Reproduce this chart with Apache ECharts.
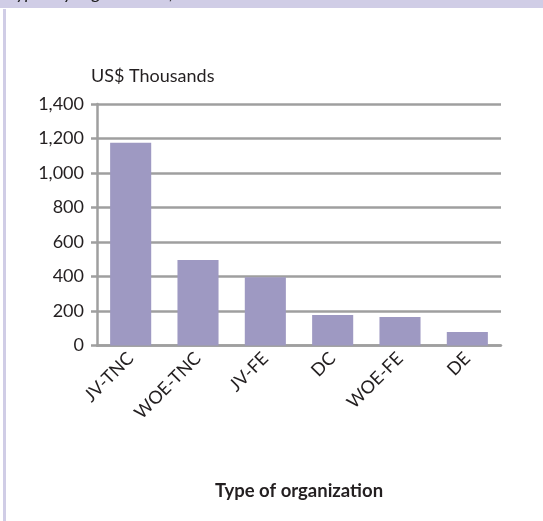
<!DOCTYPE html>
<html>
<head>
<meta charset="utf-8">
<script src="https://cdn.jsdelivr.net/npm/echarts@6/dist/echarts.min.js"></script>
<style>
  html, body { margin: 0; padding: 0; background: #fff; }
  #chart { width: 543px; height: 521px; }
</style>
</head>
<body>
<div id="chart"></div>
<script>
// values
let categories = ['JV-TNC', 'WOE-TNC', 'JV-FE', 'DC', 'WOE-FE', 'DE'];
let values = [1176, 496, 395, 177, 165, 78];
let yTicks = [0, 200, 400, 600, 800, 1000, 1200, 1400];

let font = 'Lato, "Open Sans", sans-serif';
let grey = '#9f9f9f';

let myChart = echarts.init(document.getElementById('chart'));

let option = {
    animation: false,
    textStyle: { fontFamily: font },
    graphic: [
        // lavender frame around the figure
        { type: 'rect', shape: { x: 0, y: 0, width: 543, height: 8 }, style: { fill: '#d0cde6' }, z: 1 },
        { type: 'rect', shape: { x: 3, y: 9, width: 3, height: 512 }, style: { fill: '#d0cde6' }, z: 1 },
        // cut off caption on top, only descenders show
        {
            type: 'text', left: 8, top: -16, z: 2,
            style: { text: 'Types by organization,', fill: '#222', font: 'italic 18px ' + font }
        }
    ],
    grid: { left: 97, right: 42, top: 104, bottom: 175.5 },
    xAxis: {
        type: 'category',
        data: categories,
        name: 'Type of organization',
        nameLocation: 'middle',
        nameGap: 136,
        nameTextStyle: { fontSize: 18.5, fontWeight: 'bold', color: '#231f20', fontFamily: font },
        axisLine: { lineStyle: { color: grey, width: 2.5 } },
        axisTick: { show: false },
        axisLabel: { rotate: 45, fontSize: 18, color: '#231f20', margin: 10, interval: 0 }
    },
    yAxis: {
        type: 'value',
        min: 0,
        max: 1400,
        interval: 200,
        name: 'US$ Thousands',
        nameLocation: 'end',
        nameGap: 28,
        nameTextStyle: { fontSize: 18, color: '#231f20', align: 'left', verticalAlign: 'middle', padding: [0, 0, 0, -6] },
        axisLine: { show: true, lineStyle: { color: grey, width: 2.5 } },
        axisTick: { show: true, length: 6, lineStyle: { color: grey, width: 2.5 } },
        splitLine: { lineStyle: { color: grey, width: 2.5 } },
        axisLabel: {
            fontSize: 18, color: '#231f20', margin: 13,
            formatter: function (value) {
                return yTicks.indexOf(value) >= 0 ? value.toLocaleString('en-US') : '';
            }
        }
    },
    series: [
        {
            type: 'bar',
            data: values,
            barCategoryGap: '39%',
            itemStyle: { color: '#9e99c2' }
        }
    ]
};

myChart.setOption(option);
</script>
</body>
</html>
